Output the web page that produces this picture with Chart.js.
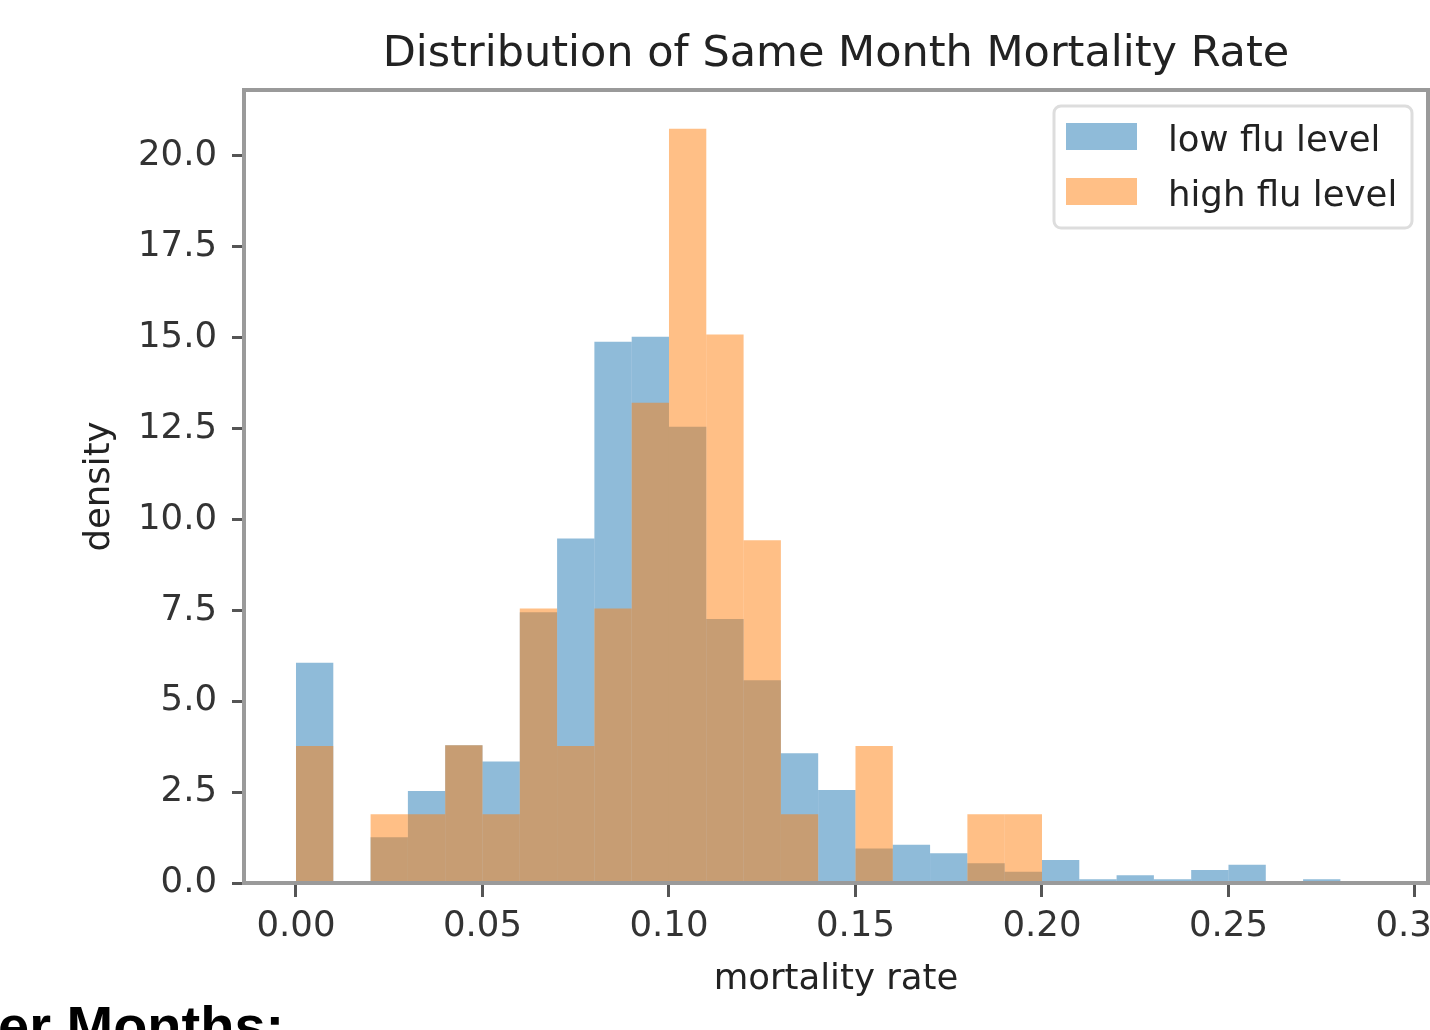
<!DOCTYPE html>
<html>
<head>
<meta charset="utf-8">
<script src="https://cdn.jsdelivr.net/npm/chart.js@4.4.1/dist/chart.umd.min.js"></script>
<style>
html,body{margin:0;padding:0;background:#fff;}
#wrap{width:1430px;height:1030px;overflow:hidden;}
</style>
</head>
<body>
<div id="wrap"><canvas id="hist" width="1430" height="1030"></canvas></div>
<script>
// lower edge of each 0.01 wide bin
var binEdges = [0.00,0.01,0.02,0.03,0.04,0.05,0.06,0.07,0.08,0.09,
	0.10,0.11,0.12,0.13,0.14,0.15,0.16,0.17,0.18,0.19,
	0.20,0.21,0.22,0.23,0.24,0.25,0.26,0.27,0.28]
var binWidth = 0.01
// density
var lowFlu = [6.06,0,1.26,2.53,3.79,3.34,7.45,9.48,14.89,15.03,
	12.55,7.26,5.58,3.57,2.56,0.95,1.05,0.82,0.54,0.31,
	0.63,0.10,0.21,0.10,0.36,0.50,0,0.10,0]
var highFlu = [3.77,0,1.89,1.89,3.79,1.89,7.55,3.77,7.55,13.21,
	20.75,15.09,9.43,1.89,0,3.77,0,0,1.89,1.89,
	0,0,0,0,0,0,0,0,0]
var seriesNames = ["low flu level","high flu level"]
var xTicks = [0.00,0.05,0.10,0.15,0.20,0.25,0.30]
var xTickLabels = ["0.00","0.05","0.10","0.15","0.20","0.25","0.30"]
var yTicks = [0,2.5,5,7.5,10,12.5,15,17.5,20]
var yTickLabels = ["0.0","2.5","5.0","7.5","10.0","12.5","15.0","17.5","20.0"]

var bleu = "rgba(31,119,180,0.5)"
var orange = "rgba(255,127,14,0.5)"

function points(vals){
	var res = []
	for(var i=0;i<binEdges.length;i++){
		res.push({x: binEdges[i]+binWidth/2, y: vals[i]})
	}
	return res
}

// spines round the plot area, drawn over the bars like matplotlib
var cadre = {
	id: "cadre",
	afterDatasetsDraw: function(chart){
		var a = chart.chartArea, ctx = chart.ctx
		ctx.save()
		ctx.strokeStyle = "#9a9a9a"
		ctx.lineWidth = 4
		ctx.strokeRect(a.left, a.top, a.right-a.left, a.bottom-a.top)
		ctx.restore()
	}
}

// matplotlib style legend in the upper right corner
var legende = {
	id: "legende",
	afterDraw: function(chart){
		var ctx = chart.ctx
		var couleurs = [bleu, orange]
		ctx.save()
		ctx.fillStyle = "rgba(255,255,255,0.8)"
		ctx.strokeStyle = "#dddddd"
		ctx.lineWidth = 3
		ctx.beginPath()
		ctx.roundRect(1054, 106, 358, 122, 7)
		ctx.fill()
		ctx.stroke()
		ctx.font = "35.5px 'DejaVu Sans'"
		ctx.textBaseline = "alphabetic"
		for(var i=0;i<seriesNames.length;i++){
			var y = 123 + i*55
			ctx.fillStyle = couleurs[i]
			ctx.fillRect(1066, y, 71, 27)
			ctx.fillStyle = "#222"
			ctx.fillText(seriesNames[i], 1168, y+28)
		}
		// heading of the next notebook cell, cut by the bottom edge
		ctx.fillStyle = "#000"
		ctx.font = "bold 56px 'Liberation Sans', Arial, sans-serif"
		ctx.fillText("er Months:", -2, 1045)
		ctx.restore()
	}
}

Chart.defaults.font.family = "'DejaVu Sans', sans-serif"
Chart.defaults.color = "#333"

new Chart("hist", {
	type: "bar",
	data: {
		datasets: [
			{label: seriesNames[0], data: points(lowFlu), backgroundColor: bleu, order: 1},
			{label: seriesNames[1], data: points(highFlu), backgroundColor: orange, order: 0}
		]
	},
	options: {
		responsive: false,
		animation: false,
		events: [],
		grouped: false,
		barPercentage: 1,
		categoryPercentage: 1,
		borderWidth: 0,
		inflateAmount: 0,
		layout: {padding: {left: 0, right: 2, top: 0, bottom: 0}},
		plugins: {
			legend: {display: false},
			tooltip: {enabled: false},
			title: {
				display: true,
				text: "Distribution of Same Month Mortality Rate",
				fullSize: false,
				color: "#222",
				font: {size: 43, weight: "normal", lineHeight: 1.2},
				padding: {top: 29, bottom: 9.4}
			}
		},
		scales: {
			x: {
				type: "linear",
				min: -0.01394,
				max: 0.30349,
				offset: false,
				grid: {display: true, offset: false, drawOnChartArea: false, drawTicks: true, tickLength: 14, tickColor: "#555", tickWidth: 3},
				border: {display: false},
				ticks: {font: {size: 35.5}, padding: 8, maxRotation: 0, autoSkip: false,
					callback: function(v, i){ return xTickLabels[i] }},
				afterBuildTicks: function(s){ s.ticks = xTicks.map(function(v){ return {value: v} }) },
				afterFit: function(s){ s.height = 147; s.paddingLeft = 0; s.paddingRight = 0 },
				title: {display: true, text: "mortality rate", color: "#222", font: {size: 35.5}, padding: {top: 0, bottom: 29}}
			},
			y: {
				min: 0,
				max: 21.815,
				grid: {display: true, drawOnChartArea: false, drawTicks: true, tickLength: 12, tickColor: "#555", tickWidth: 3},
				border: {display: false},
				ticks: {font: {size: 35.5}, padding: 15,
					callback: function(v, i){ return yTickLabels[i] }},
				afterBuildTicks: function(s){ s.ticks = yTicks.map(function(v){ return {value: v} }) },
				afterFit: function(s){ s.width = 244; s.paddingTop = 0; s.paddingBottom = 0 },
				title: {display: true, text: "density", color: "#222", font: {size: 35.5}, padding: {top: 78.7, bottom: 0}}
			}
		}
	},
	plugins: [cadre, legende]
})
</script>
</body>
</html>
